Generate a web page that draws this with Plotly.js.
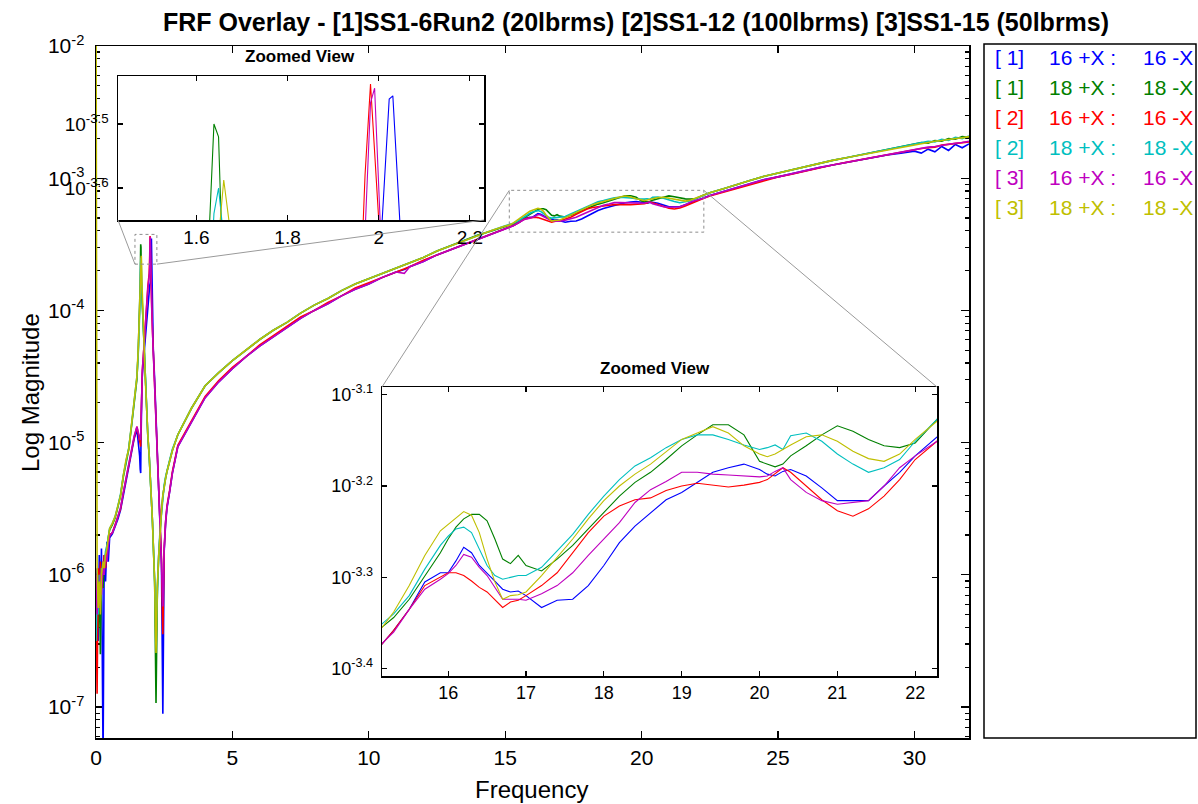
<!DOCTYPE html>
<html><head><meta charset="utf-8">
<script src="https://cdn.plot.ly/plotly-3.0.1.min.js"></script>
<style>html,body{margin:0;padding:0;background:#fff;} #chart{width:1198px;height:804px;}</style>
</head><body><div id="chart"></div>
<script>
// ---------- DATA (frequency in Hz, magnitude as log10 value) ----------
const freq = [
  0, 0.04, 0.08, 0.12, 0.16, 0.2, 0.26, 0.3, 0.35, 0.4, 0.45, 0.5, 0.6, 0.7, 0.8, 0.9, 1.0, 1.1, 1.2, 1.3, 1.4, 1.5,
  1.55, 1.6, 1.62, 1.6385, 1.6486, 1.66, 1.672, 1.685, 1.7, 1.75, 1.8, 1.85, 1.9, 1.95, 1.965, 1.97, 1.982, 1.991, 2.001, 2.006,
  2.023, 2.031, 2.047, 2.07, 2.1, 2.15, 2.2, 2.25, 2.3, 2.35, 2.4, 2.45, 2.5, 2.55, 2.6, 2.7, 2.8,
  3.0, 3.5, 4.0, 4.5, 5.0, 5.5, 6.0, 6.5, 7.0, 7.5, 8.0, 8.5, 9.0, 9.5, 10.0, 10.5, 11.0, 11.3, 11.5, 12.0,
  12.5, 13.0, 13.5, 14.0, 14.5, 15.0,
  15.15, 15.3, 15.5, 15.7, 15.9, 16.0, 16.1, 16.2, 16.3, 16.4, 16.5, 16.6, 16.7, 16.8, 16.9, 17.0, 17.2, 17.4, 17.6, 17.8,
  18.0, 18.2, 18.4, 18.6, 18.8, 19.0, 19.2, 19.4, 19.6, 19.8, 20.0, 20.1, 20.2, 20.3, 20.4, 20.6, 20.8, 21.0, 21.2, 21.4,
  21.6, 21.8, 22.0, 22.28,
  22.5, 23, 23.5, 24, 24.5, 25, 25.5, 26, 26.5, 27, 27.5, 28, 28.5, 29, 29.5, 30, 30.25, 30.5, 30.75, 31,
  31.25, 31.5, 31.75, 32
];

// [1] 16 +X : 16 -X  (blue)
const run1_pt16 = [
  -6.2, -5.95, -6.5, -5.85, -6.3, -5.8, -7.4, -5.85, -6.05, -5.75, -5.9, -5.72, -5.69, -5.64, -5.58, -5.51, -5.40, -5.29, -5.2, -5.07, -4.97, -4.9,
  -4.98, -5.1, -5.2, -5.23, -5.0, -4.75, -4.62, -4.55, -4.48, -4.35, -4.2, -4.05, -3.92, -3.84, -3.82, -3.81, -3.8, -3.8, -3.78, -3.67,
  -3.461, -3.456, -3.66, -4.1, -4.3, -4.52, -4.82, -5.1, -5.36, -5.64, -5.92, -7.05, -5.82, -5.62, -5.5, -5.37, -5.23,
  -5.03, -4.84, -4.66, -4.54, -4.44, -4.35, -4.27, -4.2, -4.13, -4.06, -4.0, -3.95, -3.89, -3.84, -3.8, -3.75, -3.71, -3.69, -3.67, -3.63,
  -3.58, -3.54, -3.5, -3.46, -3.42, -3.385,
  -3.373, -3.358, -3.335, -3.305, -3.295, -3.295, -3.282, -3.267, -3.273, -3.287, -3.295, -3.304, -3.313, -3.316, -3.315, -3.320, -3.333, -3.325, -3.324, -3.309,
  -3.287, -3.262, -3.244, -3.229, -3.215, -3.207, -3.196, -3.185, -3.180, -3.176, -3.182, -3.187, -3.189, -3.184, -3.182, -3.189, -3.202, -3.216, -3.216, -3.216,
  -3.200, -3.185, -3.167, -3.147,
  -3.13, -3.10, -3.07, -3.04, -3.01, -2.99, -2.965, -2.945, -2.92, -2.9, -2.88, -2.86, -2.845, -2.825, -2.81, -2.795, -2.81, -2.78, -2.8, -2.76,
  -2.79, -2.745, -2.77, -2.74
];

// [1] 18 +X : 18 -X  (green)
const run1_pt18 = [
  -6.3, -6.05, -6.4, -6.0, -6.6, -5.95, -6.1, -5.9, -5.85, -5.8, -5.72, -5.66, -5.62, -5.57, -5.49, -5.4, -5.26, -5.14, -5.05, -4.88, -4.68, -4.52,
  -4.3, -4.0, -3.8, -3.5, -3.52, -3.78, -3.86, -3.92, -3.97, -4.2, -4.5, -4.75, -4.95, -5.1, -5.15, -5.17, -5.22, -5.25, -5.3, -5.33,
  -5.4, -5.44, -5.5, -5.6, -5.75, -6.05, -6.97, -6.1, -5.85, -5.65, -5.52, -5.4, -5.32, -5.27, -5.22, -5.13, -5.06,
  -4.94, -4.74, -4.57, -4.47, -4.38, -4.3, -4.22, -4.15, -4.09, -4.02, -3.96, -3.91, -3.85, -3.8, -3.76, -3.72, -3.68, -3.655, -3.64, -3.6,
  -3.55, -3.51, -3.47, -3.43, -3.4, -3.365,
  -3.355, -3.344, -3.324, -3.298, -3.273, -3.258, -3.245, -3.236, -3.231, -3.231, -3.238, -3.258, -3.280, -3.285, -3.276, -3.287, -3.293, -3.280, -3.265, -3.247,
  -3.229, -3.211, -3.196, -3.185, -3.171, -3.156, -3.144, -3.133, -3.133, -3.144, -3.173, -3.176, -3.179, -3.176, -3.167, -3.156, -3.144, -3.134, -3.140, -3.149,
  -3.156, -3.158, -3.153, -3.127,
  -3.11, -3.08, -3.045, -3.015, -2.985, -2.96, -2.935, -2.91, -2.89, -2.865, -2.845, -2.825, -2.805, -2.785, -2.765, -2.745, -2.73, -2.735, -2.715, -2.72,
  -2.7, -2.705, -2.685, -2.69
];

// [2] 16 +X : 16 -X  (red)
const run2_pt16 = [
  -6.2, -6.9, -5.95, -6.2, -5.9, -6.1, -5.95, -5.85, -5.95, -5.8, -5.75, -5.7, -5.68, -5.62, -5.57, -5.5, -5.38, -5.27, -5.18, -5.06, -4.96, -4.88,
  -4.93, -5.0, -5.02, -5.03, -4.85, -4.72, -4.6, -4.52, -4.45, -4.3, -4.12, -3.95, -3.82, -3.72, -3.67, -3.58, -3.4375, -3.55, -3.66, -3.72,
  -3.85, -3.92, -4.02, -4.15, -4.3, -4.5, -4.8, -5.08, -5.34, -5.6, -5.88, -6.45, -5.8, -5.6, -5.48, -5.36, -5.22,
  -5.02, -4.83, -4.65, -4.53, -4.43, -4.35, -4.26, -4.19, -4.12, -4.05, -4.0, -3.94, -3.89, -3.83, -3.79, -3.75, -3.71, -3.68, -3.67, -3.62,
  -3.58, -3.54, -3.5, -3.46, -3.42, -3.385,
  -3.373, -3.358, -3.335, -3.309, -3.300, -3.295, -3.295, -3.298, -3.304, -3.311, -3.316, -3.325, -3.333, -3.327, -3.325, -3.320, -3.309, -3.295, -3.273, -3.251,
  -3.233, -3.222, -3.215, -3.213, -3.205, -3.200, -3.197, -3.199, -3.201, -3.199, -3.196, -3.193, -3.187, -3.180, -3.185, -3.200, -3.215, -3.227, -3.233, -3.225,
  -3.211, -3.193, -3.171, -3.151,
  -3.135, -3.105, -3.075, -3.045, -3.015, -2.99, -2.97, -2.945, -2.925, -2.9, -2.88, -2.86, -2.84, -2.82, -2.8, -2.785, -2.775, -2.77, -2.765, -2.75,
  -2.745, -2.74, -2.735, -2.725
];

// [2] 18 +X : 18 -X  (cyan)
const run2_pt18 = [
  -6.5, -6.1, -6.3, -6.0, -6.2, -5.95, -6.0, -5.9, -5.82, -5.78, -5.7, -5.65, -5.61, -5.56, -5.48, -5.39, -5.25, -5.13, -5.04, -4.87, -4.67, -4.5,
  -4.32, -4.05, -3.9, -3.64, -3.6, -3.68, -3.8, -3.9, -3.96, -4.2, -4.5, -4.75, -4.95, -5.1, -5.15, -5.17, -5.22, -5.26, -5.3, -5.33,
  -5.4, -5.44, -5.5, -5.6, -5.75, -6.05, -6.45, -6.05, -5.84, -5.65, -5.52, -5.4, -5.32, -5.26, -5.21, -5.13, -5.05,
  -4.94, -4.74, -4.57, -4.47, -4.38, -4.3, -4.22, -4.15, -4.09, -4.02, -3.96, -3.91, -3.85, -3.8, -3.76, -3.72, -3.68, -3.655, -3.64, -3.6,
  -3.55, -3.51, -3.47, -3.43, -3.395, -3.36,
  -3.351, -3.340, -3.320, -3.291, -3.265, -3.255, -3.247, -3.245, -3.251, -3.269, -3.287, -3.298, -3.302, -3.300, -3.298, -3.298, -3.289, -3.271, -3.253, -3.231,
  -3.211, -3.193, -3.178, -3.169, -3.158, -3.149, -3.144, -3.144, -3.149, -3.155, -3.160, -3.158, -3.155, -3.160, -3.145, -3.142, -3.151, -3.165, -3.176, -3.185,
  -3.180, -3.171, -3.151, -3.127,
  -3.11, -3.08, -3.045, -3.015, -2.985, -2.96, -2.935, -2.91, -2.89, -2.865, -2.845, -2.825, -2.805, -2.785, -2.765, -2.74, -2.735, -2.72, -2.725, -2.705,
  -2.715, -2.69, -2.7, -2.68
];

// [3] 16 +X : 16 -X  (magenta)
const run3_pt16 = [
  -6.0, -6.3, -6.1, -6.25, -6.0, -6.15, -5.9, -6.0, -5.85, -5.9, -5.78, -5.7, -5.68, -5.63, -5.56, -5.49, -5.38, -5.27, -5.18, -5.05, -4.95, -4.88,
  -4.92, -4.96, -4.98, -4.95, -4.8, -4.7, -4.6, -4.52, -4.45, -4.3, -4.13, -3.96, -3.84, -3.74, -3.7, -3.67, -3.467, -3.444, -3.6, -3.7,
  -3.84, -3.9, -4.0, -4.15, -4.3, -4.52, -4.82, -5.1, -5.35, -5.62, -5.9, -6.24, -5.8, -5.6, -5.49, -5.37, -5.23,
  -5.03, -4.84, -4.66, -4.54, -4.44, -4.35, -4.27, -4.2, -4.13, -4.06, -4.0, -3.95, -3.89, -3.84, -3.8, -3.75, -3.71, -3.72, -3.67, -3.63,
  -3.58, -3.54, -3.5, -3.46, -3.42, -3.385,
  -3.373, -3.360, -3.335, -3.313, -3.302, -3.296, -3.287, -3.275, -3.278, -3.289, -3.298, -3.311, -3.324, -3.324, -3.324, -3.325, -3.318, -3.309, -3.295, -3.276,
  -3.258, -3.240, -3.218, -3.204, -3.195, -3.185, -3.185, -3.187, -3.188, -3.189, -3.190, -3.189, -3.184, -3.180, -3.193, -3.207, -3.216, -3.220, -3.218, -3.216,
  -3.200, -3.180, -3.167, -3.151,
  -3.13, -3.10, -3.07, -3.04, -3.01, -2.99, -2.965, -2.945, -2.92, -2.9, -2.88, -2.86, -2.84, -2.82, -2.8, -2.78, -2.775, -2.765, -2.76, -2.75,
  -2.74, -2.735, -2.73, -2.72
];

// [3] 18 +X : 18 -X  (yellow)
const run3_pt18 = [
  -1.5, -5.95, -6.25, -6.05, -6.3, -6.0, -5.9, -5.95, -5.85, -5.8, -5.72, -5.65, -5.61, -5.56, -5.48, -5.4, -5.25, -5.13, -5.05, -4.88, -4.68, -4.5,
  -4.28, -4.0, -3.85, -3.72, -3.68, -3.5875, -3.66, -3.8, -3.93, -4.18, -4.48, -4.74, -4.94, -5.1, -5.15, -5.17, -5.22, -5.25, -5.3, -5.33,
  -5.4, -5.44, -5.5, -5.6, -5.76, -6.06, -6.59, -6.08, -5.85, -5.66, -5.52, -5.4, -5.32, -5.27, -5.22, -5.13, -5.06,
  -4.94, -4.74, -4.57, -4.47, -4.38, -4.3, -4.22, -4.15, -4.09, -4.02, -3.96, -3.91, -3.85, -3.8, -3.76, -3.72, -3.68, -3.655, -3.64, -3.6,
  -3.55, -3.51, -3.47, -3.43, -3.395, -3.362,
  -3.355, -3.338, -3.309, -3.276, -3.249, -3.242, -3.236, -3.228, -3.232, -3.251, -3.280, -3.305, -3.324, -3.320, -3.319, -3.316, -3.298, -3.278, -3.258, -3.236,
  -3.216, -3.200, -3.187, -3.176, -3.162, -3.149, -3.142, -3.135, -3.142, -3.156, -3.165, -3.168, -3.165, -3.160, -3.155, -3.146, -3.144, -3.151, -3.162, -3.170,
  -3.173, -3.165, -3.149, -3.129,
  -3.11, -3.08, -3.045, -3.015, -2.985, -2.96, -2.935, -2.91, -2.89, -2.865, -2.845, -2.825, -2.805, -2.785, -2.765, -2.745, -2.735, -2.73, -2.72, -2.715,
  -2.705, -2.7, -2.695, -2.685
];

const seriesData   = [run1_pt16, run1_pt18, run2_pt16, run2_pt18, run3_pt16, run3_pt18];
const seriesColors = ['#0000FF', '#008000', '#FF0000', '#00BFBF', '#BF00BF', '#BFBF00'];
const legendRun    = ['[ 1]', '[ 1]', '[ 2]', '[ 2]', '[ 3]', '[ 3]'];
const legendPlus   = ['16 +X :', '18 +X :', '16 +X :', '18 +X :', '16 +X :', '18 +X :'];
const legendMinus  = ['16 -X', '18 -X', '16 -X', '18 -X', '16 -X', '18 -X'];

const mainXTicks   = [0, 5, 10, 15, 20, 25, 30];
const mainYTicks   = [-7, -6, -5, -4, -3, -2];
const inset1XTicks = [1.6, 1.8, 2.0, 2.2];
const inset1XText  = ['1.6', '1.8', '2', '2.2'];
const inset1YTicks = [-3.6, -3.5];
const inset2XTicks = [16, 17, 18, 19, 20, 21, 22];
const inset2YTicks = [-3.4, -3.3, -3.2, -3.1];

const titleText = 'FRF Overlay - [1]SS1-6Run2 (20lbrms) [2]SS1-12 (100lbrms) [3]SS1-15 (50lbrms)';

// ---------- LAYOUT GEOMETRY ----------
const W = 1198, H = 804;
const FONT = 'Liberation Sans, Arial, Helvetica, sans-serif';
const px = x => x / W;
const py = y => 1 - y / H;
const mainBox   = {l: 96, r: 969, t: 46, b: 738};
const inset1Box = {l: 118, r: 484, t: 76, b: 220};
const inset2Box = {l: 382, r: 937, t: 387, b: 676};
const mainXR = [0, 32], mainYR = [-7.234, -2];
const in1XR = [1.428, 2.231], in1YR = [-3.65, -3.425];
const in2XR = [15.15, 22.28], in2YR = [-3.408, -3.0916];

function dataToPx(f, L) {
  const x = mainBox.l + (f - mainXR[0]) / (mainXR[1] - mainXR[0]) * (mainBox.r - mainBox.l);
  const y = mainBox.t + (mainYR[1] - L) / (mainYR[1] - mainYR[0]) * (mainBox.b - mainBox.t);
  return [x, y];
}
const powLabel = v => '10<sup>' + String(v) + '</sup>';

const minorVals = [];
for (let d = -8; d <= -3; d++) for (let k = 2; k <= 9; k++) minorVals.push(d + Math.log10(k));

function axisBase(extra) {
  return Object.assign({
    showline: true, linecolor: '#000', linewidth: 1.5, mirror: 'ticks',
    ticks: 'inside', tickcolor: '#000', tickwidth: 1.2, ticklen: 6,
    showgrid: false, zeroline: false, automargin: false, fixedrange: true,
    tickmode: 'array', tickfont: {family: FONT, size: 21, color: '#000'}
  }, extra);
}

// ---------- TRACES ----------
const traces = [];
const subplots = [['x', 'y', 1.6], ['x2', 'y2', 1.1], ['x3', 'y3', 1.1]];
subplots.forEach(([xa, ya, w]) => {
  seriesData.forEach((vals, i) => {
    traces.push({
      type: 'scatter', mode: 'lines', x: freq, y: vals, xaxis: xa, yaxis: ya,
      line: {color: seriesColors[i], width: w}, showlegend: false, hoverinfo: 'skip'
    });
  });
});

// ---------- SHAPES ----------
const dashed = {color: '#8c8c8c', width: 1, dash: 'dot'};
const shapes = [
  {type: 'rect', xref: 'x', yref: 'y', x0: in1XR[0], x1: in1XR[1], y0: in1YR[0], y1: in1YR[1], line: dashed, layer: 'above'},
  {type: 'rect', xref: 'x', yref: 'y', x0: in2XR[0], x1: in2XR[1], y0: in2YR[0], y1: in2YR[1], line: dashed, layer: 'above'},
  {type: 'rect', xref: 'paper', yref: 'paper', x0: px(984), x1: px(1196), y0: py(738), y1: py(44),
   line: {color: '#000', width: 1.5}, layer: 'above'}
];
const connectors = [
  [[inset1Box.l, inset1Box.b], dataToPx(in1XR[0], in1YR[0])],
  [[inset1Box.r, inset1Box.b], dataToPx(in1XR[1], in1YR[0])],
  [[inset2Box.l, inset2Box.t], dataToPx(in2XR[0], in2YR[1])],
  [[inset2Box.r, inset2Box.t], dataToPx(in2XR[1], in2YR[1])]
];
connectors.forEach(([a, b]) => shapes.push({
  type: 'line', xref: 'paper', yref: 'paper', x0: px(a[0]), y0: py(a[1]), x1: px(b[0]), y1: py(b[1]),
  line: {color: '#9a9a9a', width: 1}, layer: 'above'
}));

// ---------- ANNOTATIONS ----------
const annotations = [
  {text: 'Log Magnitude', xref: 'paper', yref: 'paper', x: px(30), y: py(393), textangle: -90,
   showarrow: false, xanchor: 'center', yanchor: 'middle', font: {family: FONT, size: 24, color: '#000'}},
  {text: 'Frequency', xref: 'paper', yref: 'paper', x: px(531), y: py(789),
   showarrow: false, xanchor: 'center', yanchor: 'middle', font: {family: FONT, size: 24, color: '#000'}},
  {text: '<b>Zoomed View</b>', xref: 'paper', yref: 'paper', x: px(300), y: py(56),
   showarrow: false, xanchor: 'center', yanchor: 'middle', font: {family: FONT, size: 17, color: '#000'}},
  {text: '<b>Zoomed View</b>', xref: 'paper', yref: 'paper', x: px(655), y: py(368),
   showarrow: false, xanchor: 'center', yanchor: 'middle', font: {family: FONT, size: 17, color: '#000'}}
];
seriesColors.forEach((c, i) => {
  const yy = py(57 + 30.2 * i);
  const f = {family: FONT, size: 21, color: c};
  annotations.push({text: legendRun[i], xref: 'paper', yref: 'paper', x: px(993), y: yy, xanchor: 'left', yanchor: 'middle', showarrow: false, font: f});
  annotations.push({text: legendPlus[i], xref: 'paper', yref: 'paper', x: px(1047), y: yy, xanchor: 'left', yanchor: 'middle', showarrow: false, font: f});
  annotations.push({text: legendMinus[i], xref: 'paper', yref: 'paper', x: px(1141), y: yy, xanchor: 'left', yanchor: 'middle', showarrow: false, font: f});
});

const layout = {
  width: W, height: H,
  margin: {l: 0, r: 0, t: 0, b: 0, pad: 0},
  paper_bgcolor: '#fff', plot_bgcolor: '#fff',
  showlegend: false,
  font: {family: FONT, color: '#000'},
  title: {text: titleText, x: px(636), y: py(22), xref: 'paper', yref: 'paper', xanchor: 'center', yanchor: 'middle',
          font: {family: FONT, size: 25, weight: 'bold', color: '#000'}},
  xaxis: axisBase({domain: [px(mainBox.l), px(mainBox.r)], range: mainXR, anchor: 'y',
                   tickvals: mainXTicks, ticktext: mainXTicks.map(String), ticklen: 7}),
  yaxis: axisBase({domain: [py(mainBox.b), py(mainBox.t)], range: mainYR, anchor: 'x', layer: 'below traces',
                   tickvals: mainYTicks, ticktext: mainYTicks.map(powLabel), ticklen: 8, ticklabelstandoff: 6,
                   minor: {tickmode: 'array', tickvals: minorVals, ticks: 'inside', ticklen: 4, tickcolor: '#000', tickwidth: 1.2}}),
  xaxis2: axisBase({domain: [px(inset1Box.l), px(inset1Box.r)], range: in1XR, anchor: 'y2',
                    tickvals: inset1XTicks, ticktext: inset1XText, ticklen: 5, tickfont: {family: FONT, size: 19, color: '#000'}}),
  yaxis2: axisBase({domain: [py(inset1Box.b), py(inset1Box.t)], range: in1YR, anchor: 'x2',
                    tickvals: inset1YTicks, ticktext: inset1YTicks.map(powLabel), ticklen: 5, ticklabelstandoff: 4,
                    tickfont: {family: FONT, size: 19, color: '#000'}}),
  xaxis3: axisBase({domain: [px(inset2Box.l), px(inset2Box.r)], range: in2XR, anchor: 'y3',
                    tickvals: inset2XTicks, ticktext: inset2XTicks.map(String), ticklen: 5, tickfont: {family: FONT, size: 18, color: '#000'}}),
  yaxis3: axisBase({domain: [py(inset2Box.b), py(inset2Box.t)], range: in2YR, anchor: 'x3',
                    tickvals: inset2YTicks, ticktext: inset2YTicks.map(powLabel), ticklen: 5, ticklabelstandoff: 4,
                    tickfont: {family: FONT, size: 18, color: '#000'}}),
  shapes: shapes,
  annotations: annotations
};

Plotly.newPlot('chart', traces, layout, {displayModeBar: false, staticPlot: true});
</script>
</body></html>
